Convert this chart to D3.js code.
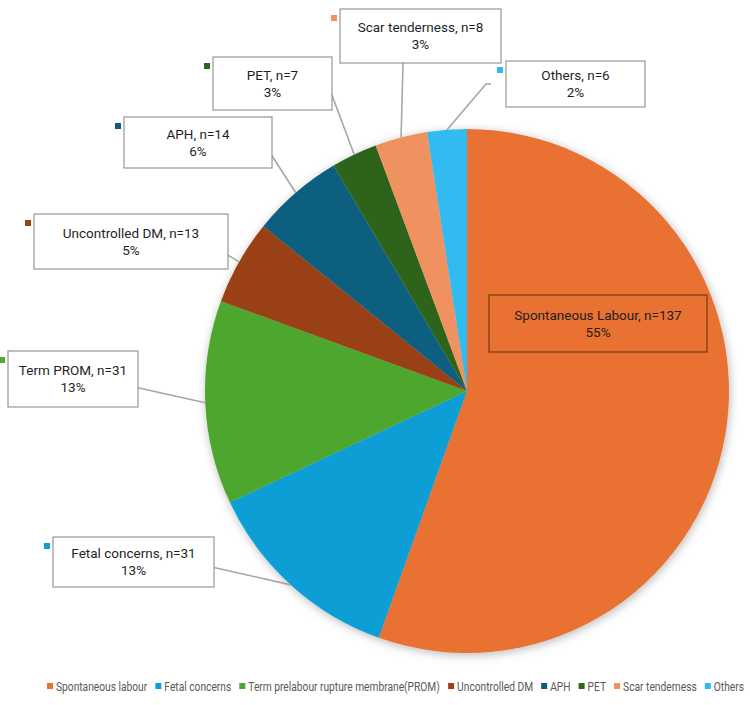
<!DOCTYPE html>
<html>
<head>
<meta charset="utf-8">
<script src="https://cdn.jsdelivr.net/npm/d3@7"></script>
<style>
  body { margin: 0; background: #fff; }
  svg { display: block; font-family: "Roboto", "Liberation Sans", sans-serif; }
</style>
</head>
<body>
<svg id="chart" width="750" height="705"></svg>
<script>
// data
const categories = ["Spontaneous labour", "Fetal concerns", "Term prelabour rupture membrane(PROM)",
  "Uncontrolled DM", "APH", "PET", "Scar tenderness", "Others"];
const labelNames = ["Spontaneous Labour", "Fetal concerns", "Term PROM", "Uncontrolled DM",
  "APH", "PET", "Scar tenderness", "Others"];
const counts = [137, 31, 31, 13, 14, 7, 8, 6];
const colors = ["#E97132", "#0F9ED5", "#4EA72E", "#9A4113", "#0A5E7F", "#2F641F", "#F0925F", "#33BBF0"];

// callout layout: box [x, y, w, h], leader start + elbow
const callouts = [
  { box: [489, 295, 218, 57], key: false, line: null, dark: true },
  { box: [53, 537, 161, 50], key: true, line: [[197, 564], [203, 565]] },
  { box: [8, 351, 130, 56], key: true, line: [[123, 385], [130, 386]] },
  { box: [34, 214, 194, 55], key: true, line: [[212, 247], [218, 249]] },
  { box: [124, 117, 148, 51], key: true, line: [[257, 145], [267, 148]] },
  { box: [213, 57, 119, 53], key: true, line: [[317, 88], [330, 90]] },
  { box: [340, 9, 161, 54], key: true, line: [[403, 63], [403, 64]] },
  { box: [506, 61, 139, 46], key: true, line: [[491, 84], [486, 84]] }
];

const cx = 467, cy = 391, radius = 262;
const total = d3.sum(counts);

const svg = d3.select("#chart");

const defs = svg.append("defs");
const filt = defs.append("filter").attr("id", "shadow")
  .attr("x", "-10%").attr("y", "-10%").attr("width", "120%").attr("height", "120%");
filt.append("feDropShadow")
  .attr("dx", 1).attr("dy", 2).attr("stdDeviation", 5)
  .attr("flood-color", "#000").attr("flood-opacity", 0.28);

const pie = d3.pie().value(d => d).sort(null);
const arcs = pie(counts);
const arc = d3.arc().innerRadius(0).outerRadius(radius);

const g = svg.append("g").attr("transform", `translate(${cx},${cy})`);
g.append("g").attr("filter", "url(#shadow)")
  .selectAll("path")
  .data(arcs)
  .join("path")
  .attr("d", arc)
  .attr("fill", (d, i) => colors[i]);

// leader lines
arcs.forEach((a, i) => {
  const c = callouts[i];
  if (!c.line) return;
  const mid = (a.startAngle + a.endAngle) / 2;
  const end = [cx + radius * Math.sin(mid), cy - radius * Math.cos(mid)];
  svg.append("path")
    .attr("d", d3.line()([c.line[0], c.line[1], end]))
    .attr("fill", "none")
    .attr("stroke", "#a6a6a6")
    .attr("stroke-width", 1.6);
});

// label boxes
callouts.forEach((c, i) => {
  const [x, y, w, h] = c.box;
  svg.append("rect")
    .attr("x", x).attr("y", y).attr("width", w).attr("height", h)
    .attr("fill", c.dark ? "none" : "#fff")
    .attr("stroke", c.dark ? "#6b3413" : "#8c8c8c")
    .attr("stroke-width", 1.1);
  if (c.key) {
    svg.append("rect")
      .attr("x", x - 9).attr("y", y + 6).attr("width", 6).attr("height", 6)
      .attr("fill", colors[i]);
  }
  const pct = Math.round(counts[i] / total * 100) + "%";
  const t = svg.append("text")
    .attr("text-anchor", "middle")
    .attr("font-size", 13.5)
    .attr("fill", "#1f1f1f");
  t.append("tspan").attr("x", x + w / 2).attr("y", y + h / 2 - 4)
    .text(`${labelNames[i]}, n=${counts[i]}`);
  t.append("tspan").attr("x", x + w / 2).attr("y", y + h / 2 + 13)
    .text(pct);
});

// legend (text squeezed horizontally to mimic a narrow font)
const legY = 687, startX = 47, endX = 744, keyW = 9, itemGap = 8;
const items = svg.append("g").selectAll("g").data(categories).join("g");
items.append("rect").attr("width", 6).attr("height", 6).attr("y", legY - 4)
  .attr("fill", (d, i) => colors[i]);
const texts = items.append("text")
  .attr("font-size", 12.5).attr("fill", "#595959").text(d => d);
const tw = [];
texts.each(function () { tw.push(this.getComputedTextLength()); });
const k = (endX - startX - keyW * categories.length - itemGap * (categories.length - 1)) / d3.sum(tw);
texts.attr("transform", `translate(${keyW},${legY + 4}) scale(${k},1)`);
let px = startX;
items.attr("transform", (d, i) => { const x = px; px += keyW + tw[i] * k + itemGap; return `translate(${x},0)`; });
</script>
</body>
</html>
